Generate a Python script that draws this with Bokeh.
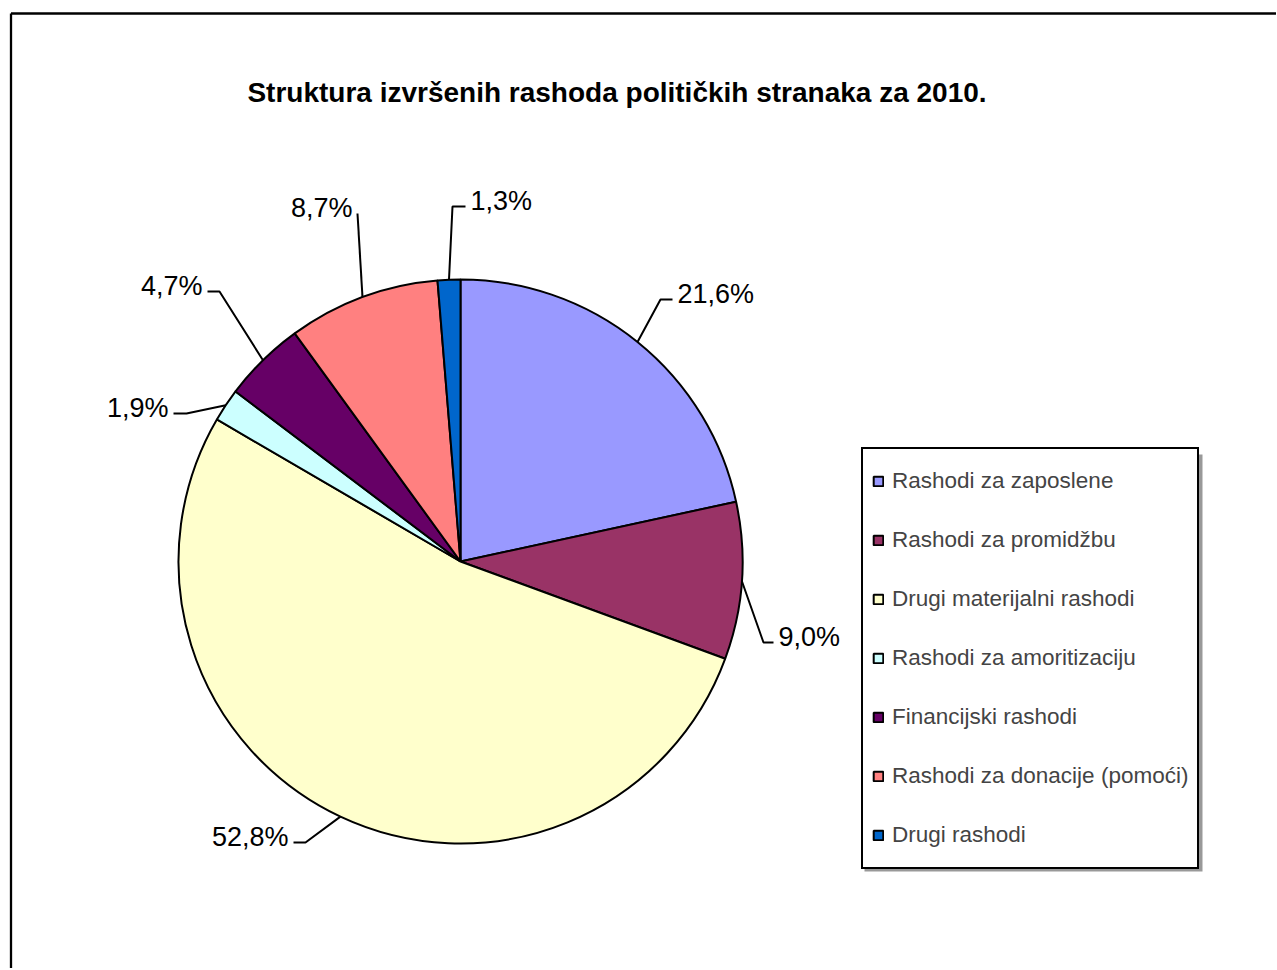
import math
from bokeh.plotting import figure
from bokeh.models import Range1d, Legend, LegendItem, ColumnDataSource, Label
from bokeh.core.properties import value
from bokeh.embed import file_html
from bokeh.resources import INLINE

# ---------------- data ----------------
categories = [
    "Rashodi za zaposlene",
    "Rashodi za promidžbu",
    "Drugi materijalni rashodi",
    "Rashodi za amoritizaciju",
    "Financijski rashodi",
    "Rashodi za donacije (pomoći)",
    "Drugi rashodi",
]
shares = [21.6, 9.0, 52.8, 1.9, 4.7, 8.7, 1.3]
colors = ["#9999FF", "#993366", "#FFFFCC", "#CCFFFF", "#660066", "#FF8080", "#0066CC"]
title_text = "Struktura izvršenih rashoda političkih stranaka za 2010."

# ---------------- layout (page pixels) ----------------
OFF = 0
W, H = 1276, 968
CX, CY, R = 460, 561, 282
FONT = "Liberation Sans"
# leader-line elbow points, horizontal tail lengths and label alignment
ELBOW = [(660, 299), (763, 642), (305, 842), (186, 413), (219, 291), (357, 213), (452, 206)]
TAIL = [12, 10, -12, -13, -12, 0, 13]
ALIGN = ["left", "left", "right", "right", "right", "right", "left"]
GAP = 5
TEXT_DY = -6

p = figure(width=W, height=H, x_range=Range1d(OFF, OFF + W), y_range=Range1d(-(OFF + H), -OFF),
           output_backend="svg", toolbar_location=None, min_border=0,
           x_axis_type=None, y_axis_type=None, outline_line_color=None)
p.grid.visible = False
p.background_fill_color = "white"

# outer frame (left and top edges visible)
p.segment(x0=[10.5, 10.5], y0=[-13, -13], x1=[10.5, 1400], y1=[-1100, -13],
          line_color="black", line_width=2.3)

# pie
total = sum(shares)
cum = [0.0]
for s in shares:
    cum.append(cum[-1] + s / total)
start = [math.pi / 2 - 2 * math.pi * cum[i] for i in range(len(shares))]
end = [math.pi / 2 - 2 * math.pi * cum[i + 1] for i in range(len(shares))]
mid = [(cum[i] + cum[i + 1]) / 2 * 2 * math.pi for i in range(len(shares))]

src = ColumnDataSource(dict(start=start, end=end, color=colors, cat=categories,
                            x=[CX] * len(shares), y=[-CY] * len(shares)))
wr = p.wedge(x="x", y="y", radius=R, start_angle="start", end_angle="end", direction="clock",
             fill_color="color", line_color="black", line_width=2, source=src)

# leader lines and labels
xs, ys, tx, ty, tt, ta = [], [], [], [], [], []
for i, s in enumerate(shares):
    ex = CX + R * math.sin(mid[i])
    ey = CY - R * math.cos(mid[i])
    bx, by = ELBOW[i]
    tx_end = bx + TAIL[i]
    xs.append([ex, bx, tx_end])
    ys.append([-ey, -by, -by])
    if ALIGN[i] == "left":
        tx.append(tx_end + GAP)
    else:
        tx.append(tx_end - GAP)
    ty.append(-(by + TEXT_DY))
    tt.append(f"{s:.1f}".replace(".", ",") + "%")
    ta.append(ALIGN[i])

p.multi_line(xs=xs, ys=ys, line_color="black", line_width=2)
lab = ColumnDataSource(dict(x=tx, y=ty, text=tt, align=ta))
p.text(x="x", y="y", text="text", text_align="align", text_baseline="middle",
       text_font=value(FONT), text_font_size="27px", text_color="black", source=lab)

# title
p.add_layout(Label(x=616.5, y=-92, text=title_text, text_align="center", text_baseline="middle",
                   text_font=FONT, text_font_style="bold", text_font_size="28px", text_color="black"))

# legend shadow
p.quad(left=[864], right=[1202], top=[-454], bottom=[-871], fill_color="#999999",
       line_color=None)

# legend
items = [LegendItem(label=c, renderers=[wr], index=i) for i, c in enumerate(categories)]
legend = Legend(items=items, location=(861 - OFF, (OFF + H) - 869),
                glyph_width=12, glyph_height=12, label_standoff=8, padding=9, spacing=13,
                label_height=46, label_text_font=FONT, label_text_font_size="22.5px",
                border_line_color="black", border_line_width=2, border_line_alpha=1,
                background_fill_color="white", background_fill_alpha=1,
                margin=0)
p.add_layout(legend)

open("out.html", "w").write(file_html(p, INLINE))
